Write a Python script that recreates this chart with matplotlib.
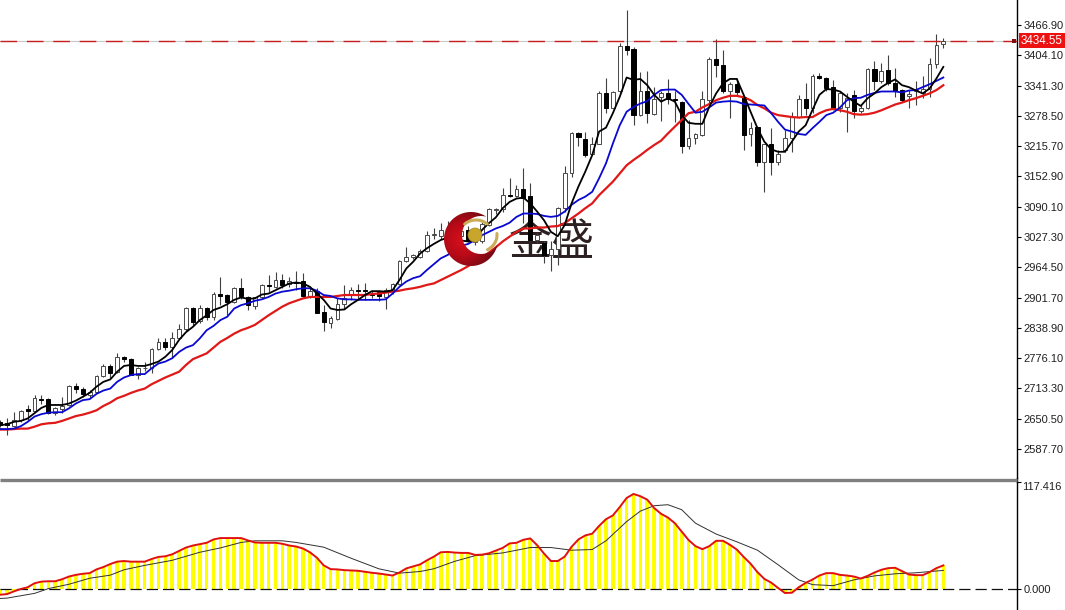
#!/usr/bin/env python

"""Gold daily candles with three moving averages and an oscillator pane."""

import numpy as np
import matplotlib
matplotlib.use('Agg')
import matplotlib.pyplot as plt
from matplotlib.patches import Circle, Polygon

plt.rcParams['font.family'] = ['Liberation Sans', 'DejaVu Sans']

# candles, oldest first
opens = [
    2644, 2641, 2636, 2648, 2670, 2667, 2692, 2691, 2662, 2671,
    2679, 2718, 2713, 2700, 2706, 2739, 2760, 2748, 2778, 2774,
    2742, 2755, 2755, 2796, 2810, 2800, 2817, 2836, 2881, 2853,
    2881, 2861, 2910, 2907, 2893, 2922, 2902, 2885, 2903, 2928,
    2924, 2939, 2930, 2935, 2937, 2906, 2915, 2872, 2850, 2857,
    2888, 2909, 2917, 2917, 2910, 2913, 2903, 2916, 2930, 2978,
    2985, 2986, 2998, 3031, 3029, 3036, 3045, 3030, 3042, 3016,
    3018, 3052, 3083, 3085, 3115, 3112, 3126, 3112, 3021, 3015,
    2989, 3002, 3087, 3159, 3242, 3230, 3199, 3221, 3325, 3295,
    3329, 3423, 3418, 3280, 3329, 3282, 3317, 3325, 3313, 3308,
    3215, 3232, 3239, 3311, 3396, 3384, 3331, 3344, 3317, 3240,
    3255, 3182, 3220, 3183, 3208, 3232, 3277, 3313, 3294, 3361,
    3358, 3338, 3294, 3296, 3322, 3289, 3294, 3376, 3351, 3373,
    3346, 3333, 3320, 3329, 3325, 3335, 3387, 3427]
highs = [
    2648, 2651, 2665, 2668, 2679, 2700, 2700, 2693, 2675, 2696,
    2720, 2725, 2717, 2710, 2742, 2765, 2764, 2786, 2780, 2776,
    2757, 2769, 2798, 2817, 2817, 2831, 2847, 2883, 2883, 2886,
    2883, 2914, 2944, 2910, 2924, 2942, 2905, 2903, 2930, 2948,
    2955, 2950, 2945, 2957, 2953, 2924, 2921, 2886, 2863, 2900,
    2928, 2924, 2929, 2931, 2917, 2917, 2921, 2931, 2980, 3006,
    2992, 3002, 3040, 3045, 3057, 3060, 3055, 3048, 3050, 3036,
    3059, 3087, 3088, 3128, 3149, 3135, 3170, 3139, 3038, 3018,
    3018, 3090, 3174, 3246, 3246, 3246, 3235, 3329, 3358, 3329,
    3429, 3499, 3422, 3370, 3371, 3339, 3329, 3354, 3329, 3309,
    3270, 3242, 3331, 3400, 3437, 3415, 3349, 3356, 3318, 3266,
    3257, 3221, 3253, 3208, 3249, 3287, 3322, 3346, 3365, 3367,
    3360, 3353, 3329, 3325, 3332, 3301, 3378, 3392, 3389, 3405,
    3377, 3335, 3332, 3351, 3361, 3399, 3448, 3439]
lows = [
    2634, 2617, 2634, 2644, 2648, 2665, 2682, 2660, 2658, 2662,
    2677, 2704, 2696, 2693, 2704, 2738, 2734, 2746, 2769, 2741,
    2732, 2750, 2745, 2793, 2793, 2776, 2815, 2833, 2845, 2850,
    2855, 2855, 2886, 2865, 2891, 2898, 2876, 2879, 2898, 2914,
    2921, 2921, 2924, 2917, 2903, 2900, 2869, 2833, 2838, 2855,
    2879, 2897, 2897, 2897, 2901, 2895, 2879, 2910, 2928, 2976,
    2981, 2983, 2997, 3023, 3024, 3030, 3028, 3022, 3016, 3010,
    3014, 3050, 3075, 3080, 3111, 3111, 3056, 3018, 3014, 2973,
    2957, 2969, 3080, 3152, 3215, 3194, 3197, 3220, 3284, 3294,
    3327, 3405, 3260, 3278, 3264, 3280, 3268, 3303, 3266, 3202,
    3210, 3221, 3237, 3304, 3360, 3325, 3275, 3322, 3208, 3215,
    3174, 3121, 3156, 3177, 3204, 3204, 3275, 3280, 3284, 3354,
    3329, 3291, 3287, 3246, 3273, 3285, 3293, 3332, 3346, 3342,
    3317, 3308, 3294, 3301, 3315, 3318, 3378, 3420]
closes = [
    2637, 2637, 2648, 2667, 2667, 2693, 2689, 2662, 2672, 2677,
    2718, 2713, 2702, 2706, 2740, 2760, 2746, 2778, 2774, 2742,
    2755, 2756, 2796, 2810, 2800, 2818, 2836, 2881, 2852, 2881,
    2861, 2910, 2906, 2892, 2922, 2905, 2886, 2902, 2928, 2926,
    2939, 2928, 2937, 2931, 2906, 2915, 2870, 2852, 2859, 2888,
    2900, 2917, 2915, 2916, 2907, 2906, 2917, 2929, 2978, 2985,
    2990, 2998, 3031, 3034, 3042, 3044, 3036, 3040, 3020, 3030,
    3054, 3085, 3085, 3114, 3113, 3126, 3109, 3021, 3031, 2990,
    3002, 3087, 3159, 3242, 3235, 3197, 3221, 3325, 3295, 3327,
    3424, 3416, 3280, 3329, 3284, 3313, 3325, 3313, 3311, 3216,
    3232, 3240, 3313, 3396, 3384, 3329, 3344, 3327, 3239, 3253,
    3182, 3220, 3183, 3199, 3232, 3277, 3313, 3294, 3361, 3356,
    3337, 3294, 3326, 3315, 3288, 3294, 3376, 3351, 3372, 3346,
    3329, 3311, 3323, 3332, 3335, 3387, 3425, 3434.55]

# moving averages
ma_fast = [
    2637, 2639, 2644, 2646, 2651, 2662, 2673, 2679, 2679, 2679,
    2682, 2688, 2696, 2704, 2717, 2727, 2732, 2748, 2760, 2762,
    2760, 2760, 2764, 2769, 2779, 2793, 2814, 2830, 2841, 2855,
    2865, 2876, 2881, 2888, 2897, 2902, 2899, 2900, 2908, 2910,
    2917, 2924, 2931, 2933, 2931, 2924, 2910, 2897, 2879, 2876,
    2877, 2888, 2897, 2907, 2915, 2915, 2914, 2917, 2938, 2962,
    2976, 2993, 3004, 3013, 3021, 3026, 3024, 3020, 3018, 3021,
    3042, 3056, 3068, 3087, 3100, 3107, 3109, 3097, 3080, 3062,
    3038, 3029, 3052, 3097, 3132, 3163, 3197, 3246, 3254, 3284,
    3318, 3358, 3353, 3355, 3342, 3322, 3308, 3315, 3308, 3280,
    3264, 3262, 3262, 3297, 3325, 3346, 3355, 3355, 3322, 3287,
    3253, 3225, 3209, 3204, 3204, 3225, 3246, 3259, 3291, 3322,
    3334, 3333, 3329, 3318, 3308, 3299, 3315, 3325, 3338, 3347,
    3354, 3342, 3338, 3331, 3325, 3335, 3356, 3380]
ma_mid = [
    2629, 2629, 2630, 2635, 2644, 2655, 2660, 2663, 2664, 2664,
    2672, 2682, 2689, 2691, 2702, 2709, 2713, 2727, 2736, 2741,
    2743, 2743, 2755, 2765, 2769, 2776, 2789, 2798, 2803, 2817,
    2834, 2843, 2855, 2862, 2879, 2886, 2890, 2895, 2898, 2903,
    2910, 2914, 2916, 2919, 2921, 2921, 2916, 2907, 2905, 2900,
    2898, 2898, 2897, 2897, 2897, 2897, 2898, 2910, 2924, 2935,
    2942, 2946, 2959, 2971, 2983, 2990, 3000, 3009, 3013, 3021,
    3031, 3038, 3045, 3050, 3057, 3069, 3076, 3076, 3075, 3071,
    3069, 3071, 3080, 3094, 3104, 3111, 3121, 3149, 3180, 3221,
    3259, 3287, 3297, 3304, 3309, 3322, 3332, 3333, 3333, 3322,
    3303, 3285, 3287, 3296, 3306, 3308, 3309, 3308, 3303, 3302,
    3301, 3300, 3284, 3266, 3250, 3246, 3241, 3239, 3253, 3266,
    3280, 3285, 3296, 3311, 3315, 3316, 3322, 3326, 3329, 3329,
    3329, 3327, 3331, 3332, 3338, 3344, 3351, 3358]
ma_slow = [
    2628, 2628, 2629, 2630, 2630, 2634, 2639, 2641, 2642, 2646,
    2651, 2656, 2659, 2663, 2668, 2677, 2684, 2693, 2698, 2704,
    2709, 2713, 2722, 2729, 2736, 2742, 2748, 2762, 2774, 2780,
    2786, 2798, 2810, 2818, 2827, 2834, 2839, 2845, 2855, 2865,
    2874, 2883, 2890, 2895, 2900, 2903, 2903, 2903, 2903, 2905,
    2907, 2907, 2907, 2907, 2909, 2910, 2912, 2914, 2916, 2919,
    2921, 2924, 2928, 2931, 2938, 2945, 2952, 2959, 2967, 2976,
    2985, 2995, 3006, 3018, 3028, 3038, 3045, 3045, 3047, 3047,
    3049, 3050, 3056, 3066, 3076, 3087, 3097, 3114, 3128, 3142,
    3159, 3176, 3187, 3197, 3208, 3218, 3227, 3242, 3256, 3270,
    3284, 3287, 3296, 3303, 3311, 3316, 3320, 3320, 3317, 3311,
    3301, 3294, 3285, 3280, 3278, 3276, 3275, 3276, 3276, 3284,
    3290, 3293, 3290, 3287, 3282, 3281, 3282, 3285, 3290, 3296,
    3302, 3306, 3311, 3315, 3320, 3325, 3332, 3342]

# oscillator pane
osc_main = [
    -6.3, -5.6, -2.6, 0, 1.9, 6.3, 8.1, 8.5, 8.5, 10.7,
    13.7, 15.5, 16.7, 17.4, 21.5, 24.1, 27.4, 30, 30.7, 30,
    30, 30, 32.9, 35.2, 35.9, 38.1, 41.8, 45.5, 47.7, 49.2,
    50.7, 54.4, 55.9, 55.9, 55.9, 55.9, 53.3, 51.1, 50.7, 50.7,
    50.7, 49.6, 47.7, 46.6, 44.4, 40.3, 34.4, 25.9, 21.8, 21.5,
    20.7, 20.4, 20, 18.9, 17.8, 17, 15.9, 14.8, 18.1, 22.6,
    24.8, 27, 31.5, 35.5, 40.3, 40.7, 40, 39.6, 39.6, 37.4,
    37.7, 39.2, 42.2, 45.1, 50, 50.7, 54, 55.5, 48.1, 38.9,
    30.7, 30.7, 35.5, 46.3, 54.4, 58.8, 60.7, 69.2, 76.6, 80.7,
    89.9, 99.9, 104.3, 101.8, 98, 88.8, 82.5, 78.4, 72.2, 62.9,
    53.7, 47, 43.7, 47, 52.9, 52.9, 48.5, 43.3, 35.2, 27.8,
    18.5, 11.1, 7, 1.1, -4.4, -4.1, 1.9, 6.7, 10.4, 14.8,
    17.4, 17.4, 15.5, 14.8, 13.7, 11.5, 14.4, 18.1, 21.1, 22.9,
    23.3, 19.6, 15.9, 15.2, 15.2, 18.5, 22.9, 25.9]
signal_bars = [
    0, 1, 5, 7, 10, 13, 16, 18, 21, 25, 29, 32, 35, 37, 41, 43, 47, 51, 55,
    58, 61, 63, 66, 69, 73, 77, 80, 83, 86, 88, 91, 93, 95, 97, 99, 101, 104,
    107, 110, 113, 116, 118, 121, 124, 127, 130, 133, 137]
signal_vals = [
    -10.4, -10, -4.8, 0.4, 5.2, 11.8, 15.2, 21.1, 25.9, 31.5, 40.3, 45.1,
    51.1, 52.9, 52.9, 51.1, 45.9, 33.7, 22.2, 17.4, 19.2, 22.2, 30.3, 36.6,
    39.6, 45.5, 45.5, 42.6, 43.3, 52.9, 74, 85.5, 91.4, 92.5, 87, 72.2, 60.3,
    51.8, 42.6, 26.6, 10, 4.8, 3.7, 10, 14.4, 16.7, 17.8, 20.4]

last_price = 3434.55
price_ticks = [3466.90, 3404.10, 3341.30, 3278.50, 3215.70, 3152.90, 3090.10,
               3027.30, 2964.50, 2901.70, 2838.90, 2776.10, 2713.30, 2650.50,
               2587.70]
osc_ticks = [117.416, 0.0]


def crescent(cx, cy, r, hx, hy, hr):
    """Return outline of the disc (cx, cy, r) minus the disc (hx, hy, hr)."""
    d = np.hypot(hx - cx, hy - cy)
    base = np.arctan2(hy - cy, hx - cx)
    a = np.arccos((d**2 + r**2 - hr**2) / (2 * d * r))
    b = np.arccos((d**2 + hr**2 - r**2) / (2 * d * hr))
    outer = np.linspace(base + a, base + 2 * np.pi - a, 80)
    inner = np.linspace(base + np.pi + b, base + np.pi - b, 60)
    xs = np.r_[cx + r * np.cos(outer), hx + hr * np.cos(inner)]
    ys = np.r_[cy + r * np.sin(outer), hy + hr * np.sin(inner)]
    return np.c_[xs, ys]


def draw_candles(ax, bars):
    """Draw wicks and bodies, with bodies filled white when the day closed up."""
    o, h, l, c = [np.array(s) for s in (opens, highs, lows, closes)]
    ax.vlines(bars, l, h, color='#404040', lw=0.8, zorder=2)
    up = c >= o
    ax.bar(bars[up], np.abs(c - o)[up], bottom=np.minimum(o, c)[up], width=0.55,
           facecolor='white', edgecolor='#484848', lw=0.7, zorder=3)
    ax.bar(bars[~up], np.abs(c - o)[~up], bottom=np.minimum(o, c)[~up],
           width=0.6, facecolor='black', edgecolor='black', lw=0.7, zorder=3)


def draw_logo(fig):
    """Draw the watermark on a pixel overlay, above the price marks."""
    over = fig.add_axes([0, 0, 1, 1], zorder=10)
    over.set_xlim(0, 1065)
    over.set_ylim(610, 0)
    over.axis('off')
    over.patch.set_alpha(0)

    # radial gradient clipped to the crescent
    gx, gy = np.meshgrid(np.linspace(443, 500, 100), np.linspace(210, 268, 100))
    dist = np.hypot(gx - 462, gy - 240) / 32
    colours = matplotlib.colors.LinearSegmentedColormap.from_list(
        'logo', ['#d8101c', '#b80a18', '#7c0a12'])
    im = over.imshow(dist, extent=(443, 500, 268, 210), cmap=colours,
                     vmin=0, vmax=1, aspect='auto', zorder=1)
    patch = Polygon(crescent(471, 239, 27, 481, 235, 19), closed=True,
                    facecolor='none', edgecolor='none', transform=over.transData)
    over.add_patch(patch)
    im.set_clip_path(patch)
    over.set_xlim(0, 1065)
    over.set_ylim(610, 0)

    # gold blades and ball
    t = np.linspace(np.radians(225), np.radians(315), 30)
    over.plot(476 + 16 * np.cos(t), 234 + 14 * np.sin(t), color='#c9ad58',
              lw=2.2, solid_capstyle='round', zorder=2)
    t = np.linspace(np.radians(-5), np.radians(60), 20)
    over.plot(478 + 19 * np.cos(t), 235 + 17 * np.sin(t), color='#c9ad58',
              lw=2.2, solid_capstyle='round', zorder=2)
    over.add_patch(Circle((475, 235), 7, facecolor='#c8a62c', edgecolor='#a88a20',
                          lw=0.5, zorder=3))

    # panel divider
    over.plot([0, 1017], [479.5, 479.5], color='#808080', lw=2.4,
              solid_capstyle='butt', zorder=4)

    # label and small square at the last price
    over.add_patch(plt.Rectangle((1019, 33), 46, 15, facecolor='#ee1111',
                                 edgecolor='none', zorder=4))
    over.text(1042, 40.6, '%.2f' % last_price, color='white', fontsize=8.4,
              ha='center', va='center', zorder=5)
    over.add_patch(plt.Rectangle((1012, 38.5), 4, 4, facecolor='#801010',
                                 edgecolor='none', zorder=4))


def main():
    """Plot candles, averages and oscillator on two stacked panes."""
    fig = plt.figure(figsize=(10.65, 6.10), dpi=100)
    ax = fig.add_axes([0, 132 / 610, 1017 / 1065, 478 / 610])
    low = fig.add_axes([0, 0, 1017 / 1065, 128 / 610])

    bars = np.arange(len(closes))

    # price pane
    draw_candles(ax, bars)
    ax.plot(bars, ma_slow, color='#e01818', lw=1.6, zorder=4)
    ax.plot(bars, ma_mid, color='#0808d0', lw=1.3, zorder=5)
    ax.plot(bars, ma_fast, color='black', lw=1.3, zorder=6)
    ax.axhline(last_price, color='#c8c8c8', lw=0.8, zorder=1)
    ax.axhline(last_price, color='#c81e1e', lw=1.0, ls=(0, (12, 7)), zorder=7)
    ax.text(552 / 1065, 1 - 243 / 610, '金盛', transform=fig.transFigure,
            fontsize=31, color='#2c2020', ha='center', va='center',
            family=['Noto Sans CJK SC', 'DejaVu Sans'], zorder=1)

    ax.set_xlim(-0.017, 147.7)
    ax.set_ylim(2527.6, 3518.7)
    ax.set_yticks(price_ticks)
    ax.set_yticklabels(['%.2f' % p for p in price_ticks])

    # oscillator pane
    low.bar(bars, osc_main, width=0.52, color='#ffff00', zorder=1)
    low.plot(signal_bars, signal_vals, color='#303030', lw=0.7, zorder=3)
    low.plot(bars, osc_main, color='#e01010', lw=1.4, zorder=4)
    low.axhline(0, color='#101010', lw=0.9, ls=(0, (9, 4)), zorder=2)
    low.set_xlim(-0.017, 147.7)
    low.set_ylim(-23.04, 117.416)
    low.set_yticks(osc_ticks)
    low.set_yticklabels(['', '0.000'])
    low.text(1022 / 1065, 1 - 487.5 / 610, '117.416', transform=fig.transFigure,
             fontsize=8, color='#202020', ha='left', va='center')

    for a in (ax, low):
        for side in ('top', 'left', 'bottom'):
            a.spines[side].set_visible(False)
        a.spines['right'].set_linewidth(1.0)
        a.set_xticks([])
        a.yaxis.tick_right()
        a.tick_params(axis='y', length=3.2, width=0.8, pad=1.5, labelsize=8,
                      labelcolor='#202020')

    draw_logo(fig)

    # join the axis line across the pane gap
    fig.add_artist(plt.Line2D([1016.5 / 1065] * 2, [128 / 610, 132 / 610],
                              color='black', lw=1.0))

    fig.savefig('out.png', dpi=100)


if __name__ == '__main__':
    main()
